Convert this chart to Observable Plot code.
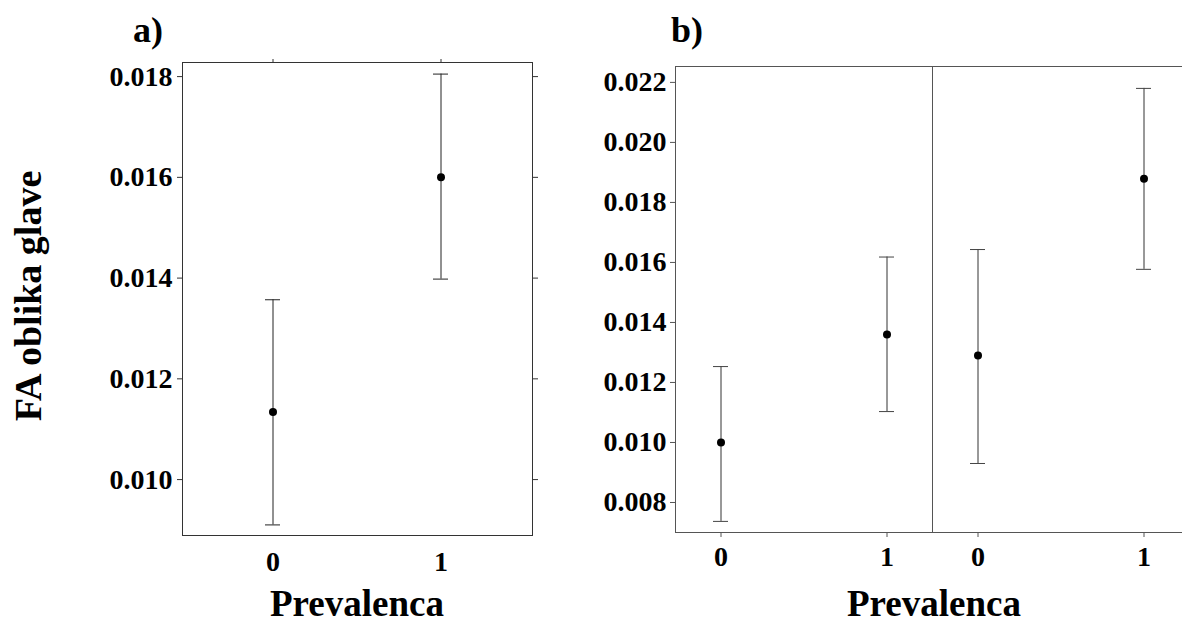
<!DOCTYPE html>
<html><head><meta charset="utf-8">
<script src="https://cdn.jsdelivr.net/npm/d3@7"></script>
<script src="https://cdn.jsdelivr.net/npm/@observablehq/plot@0.6"></script>
<style>
html,body{margin:0;padding:0;background:#fff;overflow:hidden;}
#wrap{position:relative;width:1182px;height:624px;overflow:hidden;font-family:"Liberation Serif","Times New Roman",serif;font-weight:bold;color:#000;background:#fff;}
.lbl{position:absolute;white-space:nowrap;line-height:1;}
#pa,#pb{position:absolute;top:0;height:624px;}
#pa{left:0;width:560px;}
#pb{left:560px;width:639px;}
</style></head><body>
<div id="wrap">
  <div id="pa"></div>
  <div id="pb"></div>
  <div class="lbl" id="ta" style="left:133px;top:12px;font-size:36px">a)</div>
  <div class="lbl" id="tb" style="left:671px;top:12px;font-size:36px">b)</div>
  <div class="lbl" id="ylab" style="left:27.5px;top:296px;font-size:38px;transform:translate(-50%,-50%) rotate(-90deg)">FA oblika glave</div>
  <div class="lbl" id="xla" style="left:357px;top:585px;font-size:37px;transform:translateX(-50%)">Prevalenca</div>
  <div class="lbl" id="xlb" style="left:934px;top:585px;font-size:37px;transform:translateX(-50%)">Prevalenca</div>
</div>
<script>
// ---- data ----
const prevalenca = [0, 1];
// panel a)
const aMean = [0.01134, 0.01600];
const aLow  = [0.00910, 0.01398];
const aHigh = [0.01357, 0.01805];
const aTicks = [0.010, 0.012, 0.014, 0.016, 0.018];
const aDomain = [0.00889, 0.01828];
// panel b)
const groups = ["1", "2"];
const bGroup = ["1", "1", "2", "2"];
const bPrev  = [0, 1, 0, 1];
const bMean  = [0.01000, 0.01360, 0.01290, 0.01879];
const bLow   = [0.00737, 0.01103, 0.00930, 0.01577];
const bHigh  = [0.01253, 0.01618, 0.01643, 0.02180];
const bTicks = [0.008, 0.010, 0.012, 0.014, 0.016, 0.018, 0.020, 0.022];
const bDomain = [0.00700, 0.02253];

const rowsA = prevalenca.map((p, i) => ({prevalenca: p, mean: aMean[i], low: aLow[i], high: aHigh[i]}));
const rowsB = bGroup.map((g, i) => ({group: g, prevalenca: bPrev[i], mean: bMean[i], low: bLow[i], high: bHigh[i]}));

const fmt = d3.format(".3f");
const style = {fontFamily: '"Liberation Serif", "Times New Roman", serif', fontSize: "28px", fontWeight: "bold", color: "#000", background: "transparent", maxWidth: "none"};

const plotA = Plot.plot({
  width: 560, height: 624,
  marginLeft: 182, marginRight: 28, marginTop: 62, marginBottom: 89,
  style,
  x: {type: "band", domain: prevalenca, paddingInner: 0.9107, paddingOuter: 0.497},
  y: {domain: aDomain},
  marks: [
    Plot.frame({stroke: "#333"}),
    Plot.axisY({ticks: aTicks, anchor: "left", tickSize: 5, tickPadding: 5, tickFormat: fmt, label: null, stroke: "#333", fill: "#000"}),
    Plot.axisY({ticks: aTicks, anchor: "right", tickSize: 5, tickFormat: () => "", label: null, stroke: "#333"}),
    Plot.axisX({ticks: prevalenca, anchor: "bottom", tickSize: 0, tickPadding: 16, label: null, fill: "#000"}),
    Plot.axisX({ticks: prevalenca, anchor: "top", tickSize: 4, tickFormat: () => "", label: null, stroke: "#333"}),
    Plot.ruleX(rowsA, {x: "prevalenca", y1: "low", y2: "high", stroke: "#222"}),
    Plot.tickY(rowsA, {x: "prevalenca", y: "low", stroke: "#222"}),
    Plot.tickY(rowsA, {x: "prevalenca", y: "high", stroke: "#222"}),
    Plot.dot(rowsA, {x: "prevalenca", y: "mean", r: 4, fill: "#000", stroke: "none"})
  ]
});
document.getElementById("pa").appendChild(plotA);

const plotB = Plot.plot({
  width: 639, height: 624,
  marginLeft: 115, marginRight: 10, marginTop: 66, marginBottom: 92,
  style,
  fx: {domain: groups, padding: 0, axis: null, label: null},
  x: {type: "band", domain: prevalenca, paddingInner: 0.91, paddingOuter: 0.225},
  y: {domain: bDomain},
  marks: [
    Plot.frame({stroke: "#555"}),
    Plot.axisY({ticks: bTicks, anchor: "left", tickSize: 5, tickPadding: 4, tickFormat: fmt, label: null, stroke: "#555", fill: "#000"}),
    Plot.axisX({ticks: prevalenca, anchor: "bottom", tickSize: 5, tickPadding: 9, label: null, stroke: "#555", fill: "#000"}),
    Plot.ruleX(rowsB, {fx: "group", x: "prevalenca", y1: "low", y2: "high", stroke: "#333"}),
    Plot.tickY(rowsB, {fx: "group", x: "prevalenca", y: "low", stroke: "#444"}),
    Plot.tickY(rowsB, {fx: "group", x: "prevalenca", y: "high", stroke: "#444"}),
    Plot.dot(rowsB, {fx: "group", x: "prevalenca", y: "mean", r: 4, fill: "#000", stroke: "none"})
  ]
});
document.getElementById("pb").appendChild(plotB);
</script>
</body></html>
